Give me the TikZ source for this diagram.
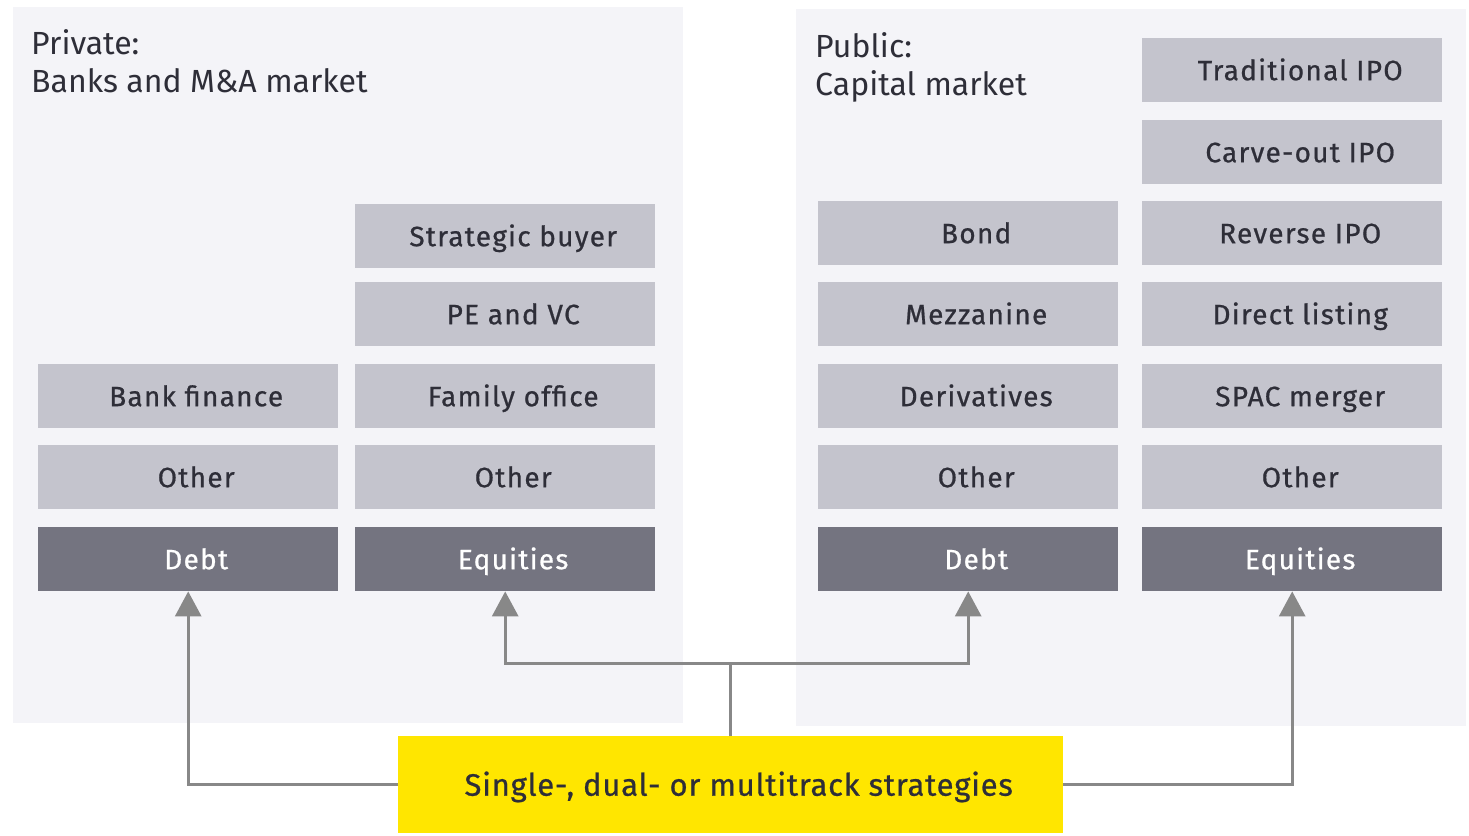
\documentclass[tikz,border=0pt]{standalone}
\usepackage{fontspec}
\setmainfont{Fira Sans}
\newfontfamily\boxfont{Fira Sans}[LetterSpace=4.5,FakeBold=0.7]
\newfontfamily\ysfont{Fira Sans}[LetterSpace=2.5,FakeBold=0.7]
\usetikzlibrary{arrows.meta}
\definecolor{panel}{HTML}{F4F4F8}
\definecolor{lightbox}{HTML}{C4C4CD}
\definecolor{darkbox}{HTML}{747480}
\definecolor{txt}{HTML}{2E2E38}
\definecolor{eyyellow}{HTML}{FFE600}
\definecolor{conn}{HTML}{888888}
\tikzset{
  panelbox/.style={fill=panel, draw=none, anchor=north west, inner sep=0pt},
  cellbase/.style={draw=none, anchor=north west, minimum width=300pt, minimum height=64pt, inner sep=0pt,
     text height=20pt, text depth=0pt, font=\boxfont\fontsize{28}{32}\selectfont,
     execute at begin node={\hspace*{16pt}}},
  lbox/.style={cellbase, fill=lightbox, text=txt},
  dbox/.style={cellbase, fill=darkbox, text=white},
  title/.style={anchor=base west, text=txt, inner sep=0pt, font=\fontsize{32}{38}\selectfont},
  arr/.style={draw=conn, line width=3pt, -{Triangle[length=25pt,width=26pt]}},
  ln/.style={draw=conn, line width=3pt}
}
\begin{document}
\begin{tikzpicture}[x=1pt,y=-1pt]
\useasboundingbox (0,0) rectangle (1469,835);
% panels
\node[panelbox, minimum width=670pt, minimum height=716pt] (pL) at (13,7) {};
\node[panelbox, minimum width=670pt, minimum height=717pt] (pR) at (796,9) {};
\node[title] (tL1) at (31,54) {Private:};
\node[title] (tL2) at (31,92) {Banks and M\&A market};
\node[title] (tR1) at (815,57) {Public:};
\node[title] (tR2) at (815,95) {Capital market};
% left boxes
\node[lbox] (sb) at (355,204) {Strategic buyer};
\node[lbox] (pe) at (355,282) {PE and VC};
\node[lbox] (bf) at (38,364) {Bank finance};
\node[lbox] (fo) at (355,364) {Family office};
\node[lbox] (o1) at (38,445) {Other};
\node[lbox] (o2) at (355,445) {Other};
\node[dbox] (d1) at (38,527) {Debt};
\node[dbox] (e1) at (355,527) {Equities};
% right boxes
\node[lbox] (ti) at (1142,38) {Traditional IPO};
\node[lbox] (ci) at (1142,120) {Carve-out IPO};
\node[lbox] (bo) at (818,201) {Bond};
\node[lbox] (ri) at (1142,201) {Reverse IPO};
\node[lbox] (mz) at (818,282) {Mezzanine};
\node[lbox] (dl) at (1142,282) {Direct listing};
\node[lbox] (dv) at (818,364) {Derivatives};
\node[lbox] (sp) at (1142,364) {SPAC merger};
\node[lbox] (o3) at (818,445) {Other};
\node[lbox] (o4) at (1142,445) {Other};
\node[dbox] (d2) at (818,527) {Debt};
\node[dbox] (e2) at (1142,527) {Equities};
% strategy box
\node[fill=eyyellow, anchor=north west, minimum width=665pt, minimum height=97pt, inner sep=0pt,
      text=txt, text height=22pt, text depth=0pt, font=\ysfont\fontsize{31}{36}\selectfont,
      execute at begin node={\hspace*{16pt}}] (ys) at (398,736) {Single-, dual- or multitrack strategies};
% connectors
\draw[arr] (ys.west) -| (d1.south);
\draw[arr] (ys.east) -| (e2.south);
\coordinate (j) at ([yshift=73pt]ys.north);
\draw[ln] (ys.north) -- (j);
\draw[arr] (j) -| (e1.south);
\draw[arr] (j) -| (d2.south);
\end{tikzpicture}
\end{document}
